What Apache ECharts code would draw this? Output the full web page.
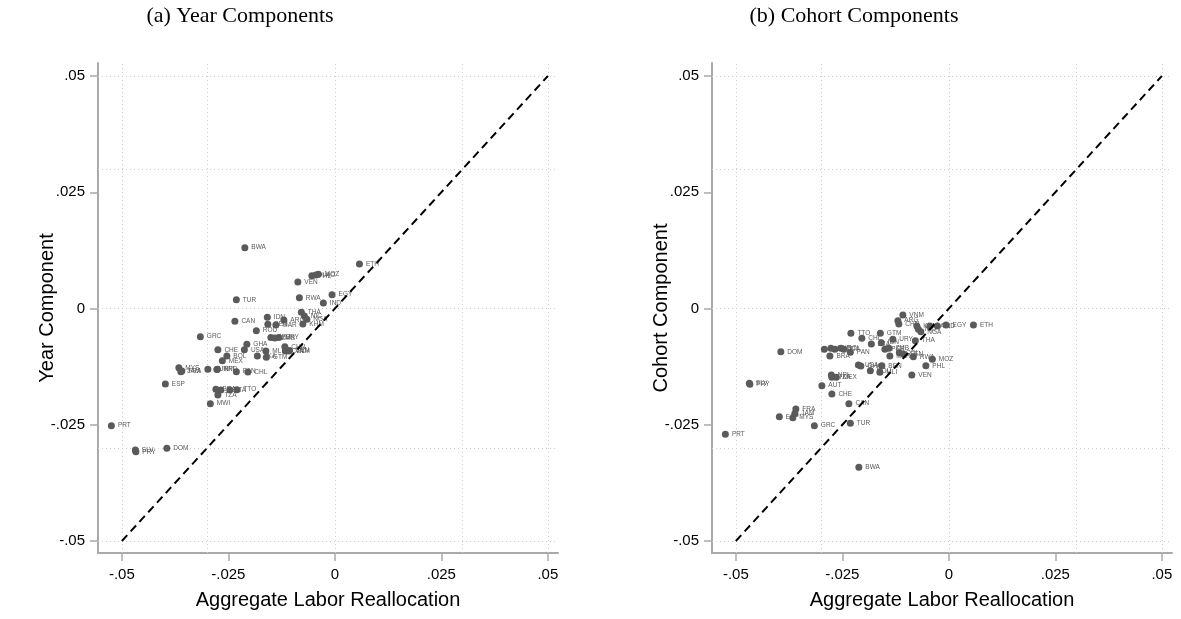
<!DOCTYPE html>
<html>
<head>
<meta charset="utf-8">
<script src="https://cdn.jsdelivr.net/npm/echarts@6/dist/echarts.min.js"></script>
<style>
html,body{margin:0;padding:0;background:#fff;}
#chart{width:1181px;height:619px;}
</style>
</head>
<body>
<div id="chart"></div>
<script>
// ---- data ----
const countries = ['PRT','SLV','PRY','DOM','ESP','MYS','JAM','FRA','GRC','AUT','MWI','BRA','HND','NPL','CHE','TZA','POL','MEX','BOL','ITA','TTO','CAN','TUR','PAN','USA','BWA','GHA','CHL','ROU','LKA','MLI','GTM','IDN','BEN','PER','ZMB','MAR','URY','ARG','CHN','COL','VNM','SEN','VEN','RWA','THA','KHM','NIC','NGA','PHL','LAO','MOZ','IND','EGY','ETH'];
const aggRealloc = [-0.05246,-0.04683,-0.04671,-0.03944,-0.03979,-0.03662,-0.03615,-0.03592,-0.03157,-0.02981,-0.02923,-0.02793,-0.02770,-0.02758,-0.02746,-0.02746,-0.02676,-0.02641,-0.02535,-0.02465,-0.02300,-0.02347,-0.02312,-0.02312,-0.02124,-0.02113,-0.02066,-0.02042,-0.01843,-0.01819,-0.01620,-0.01608,-0.01585,-0.01573,-0.01502,-0.01408,-0.01385,-0.01315,-0.01197,-0.01174,-0.01162,-0.01080,-0.01068,-0.00869,-0.00833,-0.00786,-0.00751,-0.00716,-0.00657,-0.00540,-0.00446,-0.00387,-0.00270,-0.00066,0.00577];
const yearComp = [-0.02520,-0.03043,-0.03080,-0.03006,-0.01624,-0.01273,-0.01359,-0.01344,-0.00606,-0.01308,-0.02047,-0.01738,-0.01312,-0.01308,-0.00886,-0.01860,-0.01753,-0.01125,-0.01022,-0.01753,-0.01746,-0.00275,0.00189,-0.01359,-0.00886,0.01308,-0.00770,-0.01366,-0.00477,-0.01022,-0.00914,-0.01049,-0.00189,-0.00340,-0.00624,-0.00634,-0.00355,-0.00624,-0.00247,-0.00822,-0.00914,-0.00914,-0.00903,0.00570,0.00232,-0.00082,-0.00333,-0.00161,-0.00232,0.00705,0.00720,0.00735,0.00118,0.00297,0.00957];
const cohortComp = [-0.02705,-0.01609,-0.01630,-0.00929,-0.02327,-0.02348,-0.02258,-0.02161,-0.02520,-0.01660,-0.00877,-0.01022,-0.00856,-0.01430,-0.01839,-0.01480,-0.00877,-0.01480,-0.00856,-0.00877,-0.00533,-0.02047,-0.02469,-0.00942,-0.01215,-0.03415,-0.01237,-0.00641,-0.01338,-0.00763,-0.01372,-0.00533,-0.00735,-0.01230,-0.00877,-0.00856,-0.01022,-0.00662,-0.00262,-0.00333,-0.00951,-0.00140,-0.00978,-0.01430,-0.01037,-0.00692,-0.00376,-0.00447,-0.00499,-0.01230,-0.00376,-0.01092,-0.00376,-0.00355,-0.00355];
const tickValues = [-0.05, -0.025, 0, 0.025, 0.05];
const diagEnds = [-0.05, 0.05];
const panelTitles = ['(a) Year Components', '(b) Cohort Components'];
const yNames = ['Year Component', 'Cohort Component'];
const xName = 'Aggregate Labor Reallocation';

// ---- chart ----
const chart = echarts.init(document.getElementById('chart'), null, {renderer: 'canvas'});
const fmt = v => (Math.abs(v) < 1e-12 ? '0' : String(+v.toFixed(4)).replace(/^(-?)0\./, '$1.'));
const sans = 'Liberation Sans, Arial, Helvetica, sans-serif';
const axisGray = '#a9a9a9';

function xAxisDef(idx) {
  return {
    type: 'value', gridIndex: idx, min: -0.0556, max: 0.05238,
    name: xName, nameLocation: 'middle', nameGap: 37,
    nameTextStyle: {fontFamily: sans, fontSize: 20, color: '#000'},
    axisLine: {show: true, onZero: false, lineStyle: {color: axisGray, width: 2}},
    axisTick: {show: true, length: 8, customValues: tickValues, lineStyle: {color: axisGray, width: 1.5}},
    axisLabel: {show: true, margin: 14, customValues: tickValues, formatter: fmt, fontFamily: sans, fontSize: 15, color: '#000'},
    splitLine: {show: false}
  };
}
function yAxisDef(idx) {
  return {
    type: 'value', gridIndex: idx, min: -0.05258, max: 0.0528,
    name: yNames[idx], nameLocation: 'middle', nameGap: 41, nameRotate: 90,
    nameMoveOverlap: false,
    nameTextStyle: {fontFamily: sans, fontSize: 20, color: '#000'},
    axisLine: {show: true, onZero: false, lineStyle: {color: axisGray, width: 2}},
    axisTick: {show: true, length: 8, customValues: tickValues, lineStyle: {color: axisGray, width: 1.5}},
    axisLabel: {show: true, margin: 13, customValues: tickValues, formatter: fmt, fontFamily: sans, fontSize: 15, color: '#000'},
    splitLine: {show: false}
  };
}
function gridMarks() {
  return {
    silent: true, symbol: 'none', z: 1,
    label: {show: false},
    lineStyle: {color: '#cccccc', width: 1, type: [1, 3]},
    emphasis: {disabled: true},
    data: tickValues.map(v => ({xAxis: v})).concat(tickValues.map(v => ({yAxis: v})))
  };
}
function scatterSeries(idx, ys) {
  return {
    type: 'scatter', xAxisIndex: idx, yAxisIndex: idx, z: 3,
    symbol: 'circle', symbolSize: 7,
    itemStyle: {color: '#5a5a5a', opacity: 1},
    label: {show: true, position: 'right', distance: 3, formatter: p => p.data[2],
            fontFamily: sans, fontSize: 6.5, color: '#5a5a5a'},
    emphasis: {disabled: true},
    data: countries.map((c, i) => [aggRealloc[i], ys[i], c]),
    markLine: gridMarks()
  };
}
function diagSeries(idx) {
  return {
    type: 'line', xAxisIndex: idx, yAxisIndex: idx, z: 4,
    symbol: 'none', silent: true,
    lineStyle: {color: '#000', width: 2, type: [8, 5]},
    data: [[diagEnds[0], diagEnds[0]], [diagEnds[1], diagEnds[1]]]
  };
}

chart.setOption({
  animation: false,
  backgroundColor: '#fff',
  grid: [
    {left: 98, top: 63, width: 460, height: 490},
    {left: 712, top: 63, width: 460, height: 490}
  ],
  xAxis: [xAxisDef(0), xAxisDef(1)],
  yAxis: [yAxisDef(0), yAxisDef(1)],
  graphic: [
    {type: 'text', x: 240, y: 16, style: {text: panelTitles[0], fontFamily: 'Liberation Serif, serif', fontSize: 22, fill: '#000', align: 'center', verticalAlign: 'middle'}},
    {type: 'text', x: 854, y: 16, style: {text: panelTitles[1], fontFamily: 'Liberation Serif, serif', fontSize: 22, fill: '#000', align: 'center', verticalAlign: 'middle'}}
  ],
  series: [
    scatterSeries(0, yearComp), diagSeries(0),
    scatterSeries(1, cohortComp), diagSeries(1)
  ]
});
</script>
</body>
</html>
